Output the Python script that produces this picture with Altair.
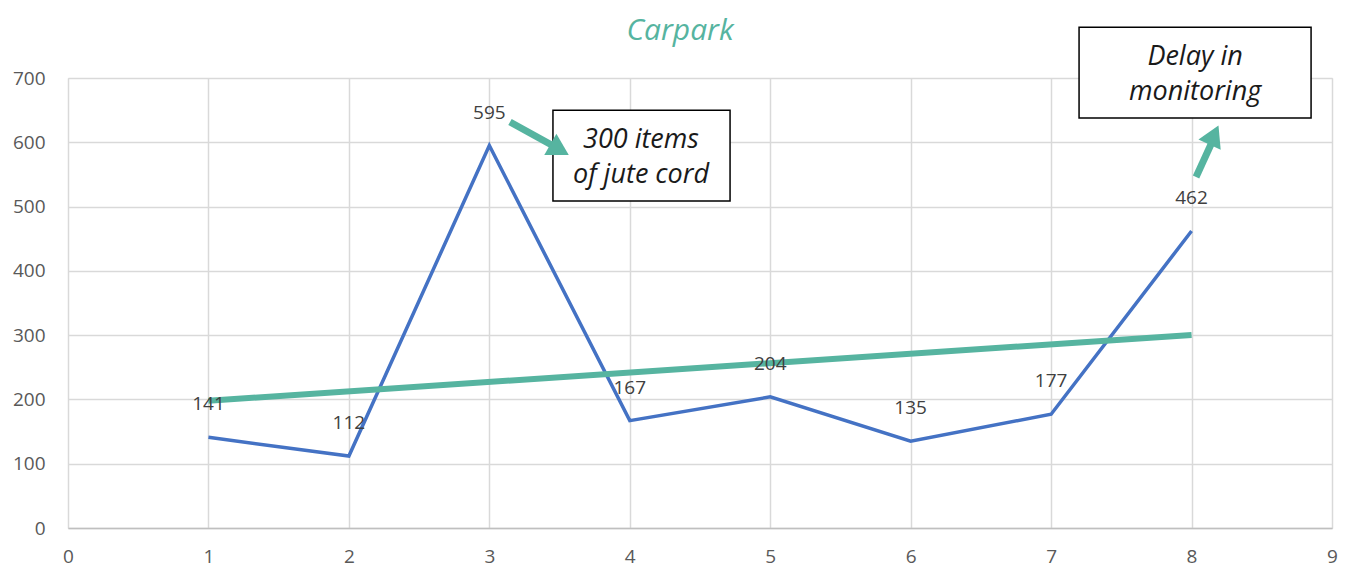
import altair as alt
import pandas as pd

# ---- data ----
days = [1, 2, 3, 4, 5, 6, 7, 8]
counts = [141, 112, 595, 167, 204, 135, 177, 462]

box_x = [3.453, 7.199]
box_x2 = [4.714, 8.851]
box_y = [508.6, 637.7]
box_y2 = [650.0, 779.0]

note_text = ["300 items", "of jute cord", "Delay in", "monitoring"]
note_x = [4.08, 4.08, 8.025, 8.025]
note_y = [603.5, 549.0, 732.6, 678.0]

arrow_id = [1, 1, 2, 2]
arrow_x = [3.147, 3.47, 8.032, 8.146]
arrow_y = [631.5, 592.6, 546.0, 600.4]

head_x = [3.50, 8.160]
head_y = [588.5, 611.3]
head_angle = [119.6, 24.8]

TEAL = "#56B4A0"
BLUE = "#4472C4"
FONT = "Open Sans"

df = pd.DataFrame({"x": days, "y": counts})
boxes = pd.DataFrame({"x": box_x, "x2": box_x2, "y": box_y, "y2": box_y2})
notes = pd.DataFrame({"t": note_text, "x": note_x, "y": note_y})
arrows = pd.DataFrame({"id": arrow_id, "x": arrow_x, "y": arrow_y})
heads = pd.DataFrame({"x": head_x, "y": head_y, "a": head_angle})

xs = alt.Scale(domain=[0, 9], nice=False, zero=False)
ys = alt.Scale(domain=[0, 700], nice=False)

xaxis = alt.Axis(values=list(range(0, 10)), format="d", title=None, grid=True, ticks=False,
                 labelFontSize=19, labelColor="#595959", labelFont=FONT, labelFlush=False,
                 labelPadding=19, domainColor="#BFBFBF", domainWidth=1.5,
                 gridColor="#D9D9D9", gridWidth=1.5)
yaxis = alt.Axis(values=list(range(0, 800, 100)), format="d", title=None, grid=True, ticks=False,
                 labelFontSize=19, labelColor="#595959", labelFont=FONT, labelFlush=False,
                 labelPadding=23, domain=False, gridColor="#D9D9D9", gridWidth=1.5)

base = alt.Chart(df)

line = base.mark_line(color=BLUE, strokeWidth=3.5).encode(
    x=alt.X("x:Q", scale=xs, axis=xaxis),
    y=alt.Y("y:Q", scale=ys, axis=yaxis),
)

labels = base.mark_text(fontSize=19, color="#404040", font=FONT, dy=-33, baseline="middle").encode(
    x="x:Q", y="y:Q", text=alt.Text("y:Q")
)

trend = base.transform_regression("x", "y", extent=[1, 8]).mark_line(
    color=TEAL, strokeWidth=6
).encode(x="x:Q", y="y:Q")

box_layer = alt.Chart(boxes).mark_rect(fill="white", stroke="black", strokeWidth=1.5).encode(
    x="x:Q", x2="x2:Q", y="y:Q", y2="y2:Q"
)

note_layer = alt.Chart(notes).mark_text(fontSize=27, fontStyle="italic", color="#1a1a1a",
                                        font=FONT, baseline="middle").encode(
    x="x:Q", y="y:Q", text="t:N"
)

arrow_layer = alt.Chart(arrows).mark_line(color=TEAL, strokeWidth=7).encode(
    x="x:Q", y="y:Q", detail="id:N"
)

head_layer = alt.Chart(heads).mark_point(shape="triangle-up", filled=True, color=TEAL,
                                         size=600, opacity=1).encode(
    x="x:Q", y="y:Q", angle=alt.Angle("a:Q", scale=None)
)

title_layer = alt.Chart(pd.DataFrame({"t": ["Carpark"]})).mark_text(
    fontSize=30, fontStyle="italic", color=TEAL, font=FONT, baseline="middle"
).encode(x=alt.value(612), y=alt.value(-47), text="t:N")

chart = alt.layer(
    line, trend, labels, box_layer, note_layer, arrow_layer, head_layer, title_layer
).properties(
    width=1264, height=450,
    autosize=alt.AutoSizeParams(type="none"),
    padding={"left": 60, "top": 70, "right": 10, "bottom": 43},
).configure_view(stroke=None).configure(background="white")

chart.save("out.html", embed_options={"renderer": "svg", "actions": False})
